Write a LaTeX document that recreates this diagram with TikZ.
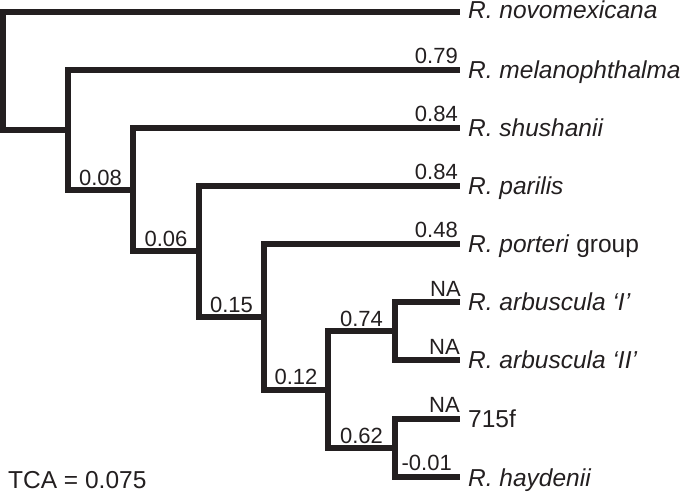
\documentclass[tikz,border=0pt]{standalone}
\usepackage{fontspec}
\setmainfont{Liberation Sans}
\definecolor{ink}{HTML}{231F20}
\begin{document}
\begin{tikzpicture}[x=1pt,y=-1pt,
  branch/.style={draw=ink,line width=6pt,line join=miter,line cap=butt},
  blabel/.style={anchor=south,inner sep=0pt,text=ink,font=\fontsize{22}{26}\selectfont},
  tlabel/.style={anchor=south east,inner sep=0pt,text=ink,font=\fontsize{22}{26}\selectfont},
  taxon/.style={anchor=base west,inner sep=0pt,text=ink,font=\fontsize{24.5}{28}\selectfont}]
\useasboundingbox (0,0) rectangle (685,494);
% tips
\coordinate (t1) at (460,12);
\coordinate (t2) at (460,70);
\coordinate (t3) at (460,128);
\coordinate (t4) at (460,186);
\coordinate (t5) at (460,244);
\coordinate (t6) at (460,302);
\coordinate (t7) at (460,360);
\coordinate (t8) at (460,419);
\coordinate (t9) at (460,477);
% internal nodes
\coordinate (nF) at (395,331);
\coordinate (nG) at (395,448);
\coordinate (nE) at (328,389.5);
\coordinate (nD) at (264,316.75);
\coordinate (nC) at (199,251.4);
\coordinate (nB) at (133,189.7);
\coordinate (nA) at (68,129.85);
\coordinate (nR) at (3,70.9);
% branches
\draw[branch] (nR) |- (t1);
\draw[branch] (nR) |- (nA);
\draw[branch] (nA) |- (t2);
\draw[branch] (nA) |- (nB);
\draw[branch] (nB) |- (t3);
\draw[branch] (nB) |- (nC);
\draw[branch] (nC) |- (t4);
\draw[branch] (nC) |- (nD);
\draw[branch] (nD) |- (t5);
\draw[branch] (nD) |- (nE);
\draw[branch] (nE) |- (nF);
\draw[branch] (nE) |- (nG);
\draw[branch] (nF) |- (t6);
\draw[branch] (nF) |- (t7);
\draw[branch] (nG) |- (t8);
\draw[branch] (nG) |- (t9);
% internal branch labels
\node[blabel] (lB) at (100.5,186) {0.08};
\node[blabel] (lC) at (166,247) {0.06};
\node[blabel] (lD) at (231.5,312.5) {0.15};
\node[blabel] (lE) at (296,385) {0.12};
\node[blabel] (lF) at (361.5,327) {0.74};
\node[blabel] (lG) at (361.5,443.5) {0.62};
% tip branch labels
\node[tlabel] (l2) at (458,63.5) {0.79};
\node[tlabel] (l3) at (458,121.5) {0.84};
\node[tlabel] (l4) at (458,179.5) {0.84};
\node[tlabel] (l5) at (458,237.5) {0.48};
\node[tlabel] (l6) at (461,296.5) {NA};
\node[tlabel] (l7) at (460,354.5) {NA};
\node[tlabel] (l8) at (460,413) {NA};
\node[tlabel] (l9) at (452,471) {-0.01};
% taxa
\node[taxon] (x1) at (468,18.5) {\itshape R. novomexicana};
\node[taxon] (x2) at (468,78.5) {\itshape R. melanophthalma};
\node[taxon] (x3) at (468,136.5) {\itshape R. shushanii};
\node[taxon] (x4) at (468,194.5) {\itshape R. parilis};
\node[taxon] (x5) at (468,252.5) {\itshape R. porteri\/\upshape\ group};
\node[taxon] (x6) at (468,310.5) {\itshape R. arbuscula ‘I’};
\node[taxon] (x7) at (468,368.5) {\itshape R. arbuscula ‘II’};
\node[taxon] (x8) at (468,427) {715f};
\node[taxon] (x9) at (468,486) {\itshape R. haydenii};
% TCA
\node[anchor=base west,inner sep=0pt,text=ink,font=\fontsize{24.5}{28}\selectfont] (tca) at (8,488) {TCA = 0.075};
\end{tikzpicture}
\end{document}
